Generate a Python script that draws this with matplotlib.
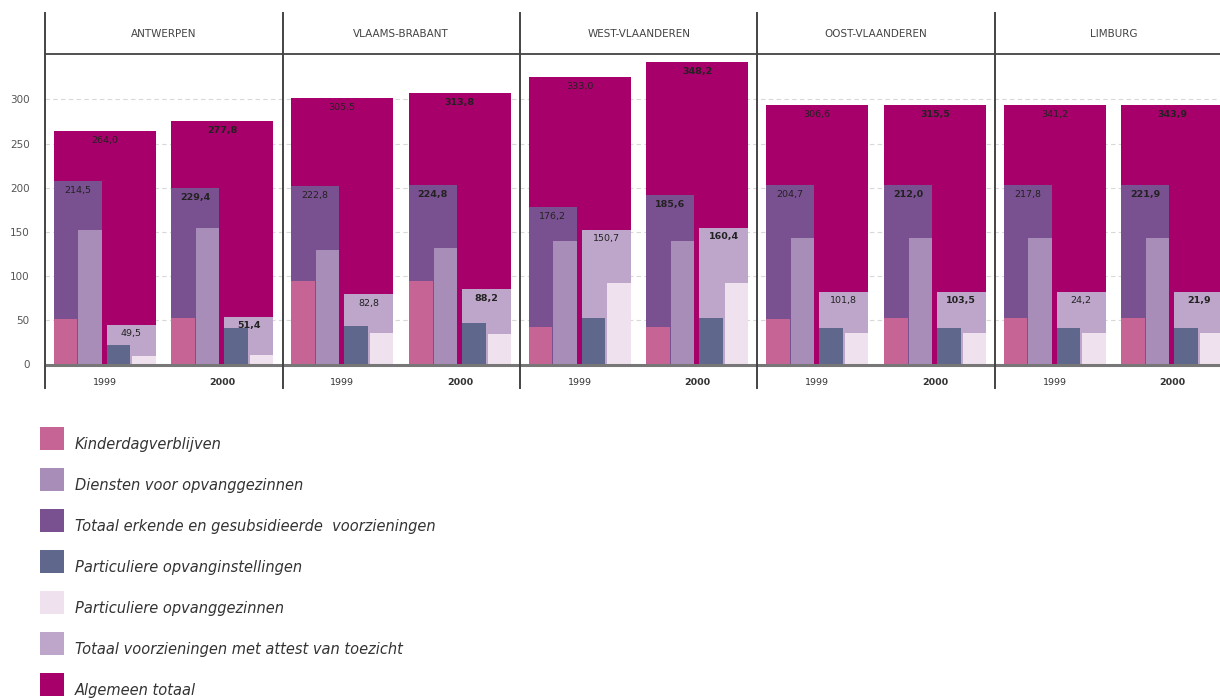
import matplotlib
matplotlib.use("Agg")
from matplotlib import pyplot as plt
from matplotlib.patches import Rectangle

# data (bar heights) + printed value labels
provinces = ["ANTWERPEN", "VLAAMS-BRABANT", "WEST-VLAANDEREN", "OOST-VLAANDEREN", "LIMBURG"]
years = ["1999", "2000"]

kinder = [52, 52.5, 94.5, 94.5, 42.8, 42.8, 52, 52.3, 52.3, 52.3]
diensten = [152, 154.7, 129.5, 131.4, 140, 140, 142.7, 142.7, 142.7, 142.7]
erkend = [207.4, 200, 202, 203, 178.5, 191.7, 203, 203, 203, 203]
partinst = [22, 41, 43.9, 46.6, 53, 53, 41, 41, 41, 41]
partgez = [9.5, 10.7, 35.3, 34, 92.5, 92.5, 35.3, 35.3, 35.3, 35.3]
attest = [44.7, 54, 79.4, 85, 152, 154.7, 82.3, 82.3, 82.3, 82.3]
totaal = [264, 275.4, 301.8, 307.5, 325.6, 341.9, 293.5, 293.5, 293.5, 293.5]

totaal_lbl = ["264,0", "277,8", "305,5", "313,8", "333,0", "348,2", "306,6", "315,5", "341,2", "343,9"]
erkend_lbl = ["214,5", "229,4", "222,8", "224,8", "176,2", "185,6", "204,7", "212,0", "217,8", "221,9"]
attest_lbl = ["49,5", "51,4", "82,8", "88,2", "150,7", "160,4", "101,8", "103,5", "24,2", "21,9"]

legend_names = ["Kinderdagverblijven",
                "Diensten voor opvanggezinnen",
                "Totaal erkende en gesubsidieerde  voorzieningen",
                "Particuliere opvanginstellingen",
                "Particuliere opvanggezinnen",
                "Totaal voorzieningen met attest van toezicht",
                "Algemeen totaal"]

c_kinder = "#c66496"
c_diensten = "#a88db9"
c_erkend = "#7a5190"
c_partinst = "#5f678c"
c_partgez = "#efe2ee"
c_attest = "#bda6c9"
c_totaal = "#a8006a"
legend_cols = [c_kinder, c_diensten, c_erkend, c_partinst, c_partgez, c_attest, c_totaal]

W, H = 1220, 700
fig = plt.figure(figsize=(12.2, 7), dpi=100)
ax = fig.add_axes([45 / W, (H - 388) / H, 1175 / W, 375 / H])

px = 0.884  # pixels per unit on y
ax.set_xlim(0, 1175 / 237.5)
ax.set_ylim(-(388 - 364.5) / px, (364.5 - 13) / px)
for s in ax.spines.values():
    s.set_visible(False)
ax.set_xticks([])
ax.set_yticks([0, 50, 100, 150, 200, 250, 300])
ax.tick_params(axis="y", length=0, pad=11, labelsize=7.5, labelcolor="#555555")

# faint dashed grid
for g in [50, 100, 150, 200, 250, 300]:
    ax.plot([0, 5], [g, g], color="#d8d8d8", lw=0.8, ls=(0, (4, 3)), zorder=0)

gw = 0.43      # group width
q = 0.1        # sub-bar width
starts = []
for i in range(len(provinces)):
    starts += [i + 0.036, i + 0.532]

for k, x0 in enumerate(starts):
    ax.bar(x0, totaal[k], width=gw, align="edge", color=c_totaal, zorder=1)
    ax.bar(x0, erkend[k], width=0.202, align="edge", color=c_erkend, zorder=2)
    ax.bar(x0, kinder[k], width=q, align="edge", color=c_kinder, zorder=3)
    ax.bar(x0 + 0.104, diensten[k], width=0.098, align="edge", color=c_diensten, zorder=3)
    ax.bar(x0 + 0.223, attest[k], width=gw - 0.223, align="edge", color=c_attest, zorder=2)
    ax.bar(x0 + 0.223, partinst[k], width=q, align="edge", color=c_partinst, zorder=3)
    ax.bar(x0 + 0.332, partgez[k], width=gw - 0.332, align="edge", color=c_partgez, zorder=3)

    fw = "bold" if k % 2 == 1 else "normal"
    ax.text(x0 + gw / 2, totaal[k] - 11, totaal_lbl[k], ha="center", va="center",
            fontsize=6.8, color="#222222", fontweight=fw, zorder=5)
    ax.text(x0 + 0.101, erkend[k] - 11, erkend_lbl[k], ha="center", va="center",
            fontsize=6.8, color="#222222", fontweight=fw, zorder=5)
    ax.text(x0 + 0.326, attest[k] - 10, attest_lbl[k], ha="center", va="center",
            fontsize=6.8, color="#222222", fontweight=fw, zorder=5)
    ax.text(x0 + gw / 2, -20, years[k % 2], ha="center", va="center",
            fontsize=6.8, color="#333333", fontweight=fw)

# frame lines: baseline, header line, province separators
ax.plot([0, 5], [0, 0], color="#777777", lw=2.2, zorder=4)
ax.plot([0, 5], [351, 351], color="#333333", lw=1.2, zorder=4)
ylo, yhi = ax.get_ylim()
for i in range(len(provinces)):
    ax.plot([i, i], [ylo, yhi], color="#444444", lw=1.4, zorder=6, clip_on=False)
    ax.text(i + 0.5, 374, provinces[i], ha="center", va="center",
            fontsize=7.5, color="#444444")

# legend drawn by hand below the chart
for j, (name, col) in enumerate(zip(legend_names, legend_cols)):
    ytop = 427 + 41 * j
    fig.add_artist(Rectangle((40 / W, (H - ytop - 23) / H), 24 / W, 23 / H,
                             transform=fig.transFigure, facecolor=col, edgecolor="none"))
    fig.text(75 / W, (H - ytop - 22) / H, name, ha="left", va="baseline",
             fontsize=10.5, style="italic", color="#333333")

plt.savefig("out.png", dpi=100)
